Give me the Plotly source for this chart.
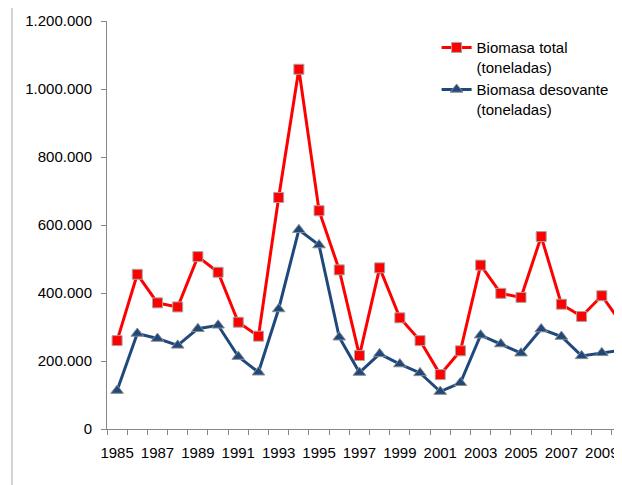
import plotly.graph_objects as go

years = list(range(1985, 2011))
biomasa_total = [260000, 455000, 371000, 359000, 507000, 461000, 314000, 273000, 681000, 1058000,
                 642000, 468000, 216000, 474000, 327000, 260000, 160000, 230000, 482000, 399000,
                 387000, 566000, 367000, 331000, 392000, 308000]
biomasa_desovante = [113000, 281000, 266000, 246000, 295000, 305000, 213000, 167000, 353000, 586000,
                     541000, 270000, 166000, 221000, 191000, 165000, 110000, 136000, 276000, 250000,
                     223000, 294000, 272000, 215000, 224000, 232000]
tick_years = list(range(1985, 2011, 2))
y_ticks = [0, 200000, 400000, 600000, 800000, 1000000, 1200000]

fig = go.Figure()
fig.add_trace(go.Scatter(
    x=years, y=biomasa_total, mode="lines+markers",
    name="Biomasa total<br>(toneladas)",
    line=dict(color="#FF0000", width=3),
    marker=dict(symbol="square", size=10, color="#FF0000", line=dict(color="#A6A6A6", width=1)),
))
fig.add_trace(go.Scatter(
    x=years, y=biomasa_desovante, mode="lines+markers",
    name="Biomasa desovante<br>(toneladas)",
    line=dict(color="#1F497D", width=3),
    marker=dict(symbol="triangle-up", size=11, color="#1F497D", line=dict(color="#8C8C8C", width=1)),
))

# page body has an 8px default margin: figure is offset by 8px
fig.update_layout(
    width=614, height=477,
    margin=dict(l=99, r=0, t=13, b=56),
    paper_bgcolor="white", plot_bgcolor="white",
    separators=",.",
    font=dict(family="Liberation Sans, Arial, sans-serif", size=15, color="#000000"),
    showlegend=True,
    legend=dict(x=0.64, y=0.975, xanchor="left", yanchor="top", valign="top",
                bgcolor="rgba(0,0,0,0)", font=dict(size=15), tracegroupgap=5, itemwidth=30),
    shapes=[dict(type="rect", xref="paper", yref="paper", x0=-0.1845, x1=1.2, y0=-0.3, y1=1.0343,
                 line=dict(color="#A6A6A6", width=1), fillcolor="rgba(0,0,0,0)", layer="below")],
)
fig.update_xaxes(
    range=[1984.5, 2010.0], showgrid=False, zeroline=False,
    showline=True, linecolor="#868686", linewidth=1,
    tickmode="array", tickvals=tick_years, ticktext=[str(y) for y in tick_years],
    ticks="", ticklabelstandoff=10,
    minor=dict(tick0=1984.5, dtick=1, ticks="outside", ticklen=5, tickcolor="#868686", showgrid=False),
)
fig.update_yaxes(
    range=[0, 1200000], showgrid=False, zeroline=False,
    showline=True, linecolor="#868686", linewidth=1,
    tickmode="array", tickvals=y_ticks, tickformat=",",
    ticks="outside", ticklen=5, tickcolor="#868686", ticklabelstandoff=6,
)

fig.write_html("out.html")
